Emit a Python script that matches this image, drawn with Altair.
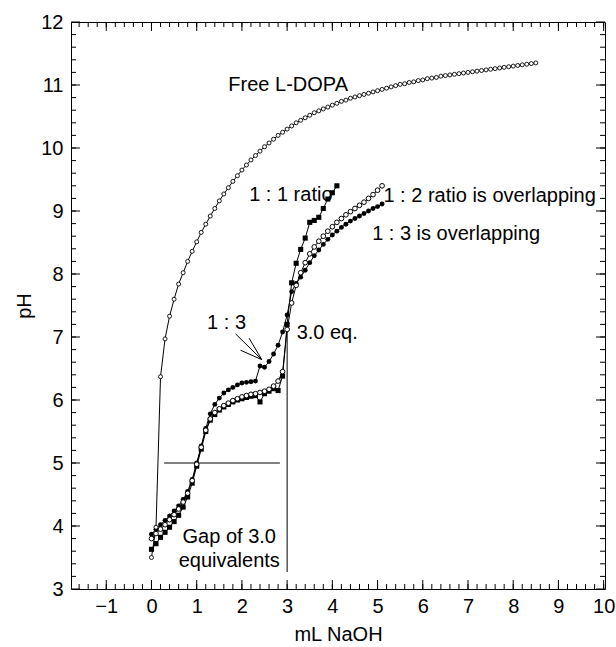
import altair as alt
import pandas as pd

# ---------------- data ----------------
# readings every 0.1 mL of NaOH starting at 0 mL
ldopa_ph = [3.50, 3.98, 6.37, 6.97, 7.33, 7.60, 7.84, 8.02, 8.20, 8.36,
            8.51, 8.66, 8.79, 8.92, 9.04, 9.16, 9.27, 9.37, 9.47, 9.56,
            9.65, 9.73, 9.81, 9.88, 9.95, 10.02, 10.08, 10.14, 10.20, 10.25,
            10.30, 10.35, 10.40, 10.44, 10.48, 10.52, 10.56, 10.59, 10.62, 10.65,
            10.68, 10.71, 10.74, 10.76, 10.79, 10.81, 10.83, 10.85, 10.87, 10.89,
            10.91, 10.93, 10.95, 10.97, 10.99, 11.01, 11.02, 11.04, 11.05, 11.07,
            11.08, 11.10, 11.11, 11.12, 11.14, 11.15, 11.16, 11.17, 11.18, 11.19,
            11.20, 11.21, 11.22, 11.23, 11.24, 11.25, 11.26, 11.27, 11.28, 11.29,
            11.30, 11.31, 11.32, 11.33, 11.34, 11.35]

ratio11_ph = [3.63, 3.72, 3.82, 3.90, 3.98, 4.07, 4.17, 4.30, 4.46, 4.68,
              4.95, 5.22, 5.50, 5.68, 5.77, 5.84, 5.89, 5.93, 5.97, 6.00,
              6.02, 6.04, 6.06, 6.07, 5.97, 6.10, 6.14, 6.18, 6.15, 6.38,
              7.20, 7.86, 8.17, 8.39, 8.57, 8.82, 8.85, 8.90, 9.04, 9.19,
              9.29, 9.40]

ratio12_ph = [3.80, 3.88, 3.95, 4.02, 4.10, 4.18, 4.27, 4.38, 4.52, 4.72,
              4.98, 5.25, 5.52, 5.70, 5.80, 5.86, 5.91, 5.95, 5.99, 6.02,
              6.05, 6.07, 6.09, 6.10, 6.12, 6.14, 6.17, 6.22, 6.30, 6.45,
              7.12, 7.54, 7.82, 8.02, 8.18, 8.32, 8.43, 8.52, 8.60, 8.68,
              8.75, 8.82, 8.88, 8.94, 8.99, 9.04, 9.09, 9.14, 9.20, 9.26,
              9.33, 9.40]

ratio13_ph = [3.87, 3.95, 4.02, 4.09, 4.16, 4.24, 4.32, 4.42, 4.55, 4.74,
              5.00, 5.27, 5.55, 5.78, 5.93, 6.03, 6.11, 6.16, 6.20, 6.24,
              6.27, 6.28, 6.29, 6.30, 6.54, 6.52, 6.61, 6.73, 6.87, 7.08,
              7.35, 7.72, 7.85, 7.95, 8.06, 8.18, 8.29, 8.38, 8.47, 8.55,
              8.62, 8.68, 8.74, 8.79, 8.84, 8.88, 8.92, 8.96, 9.00, 9.04,
              9.07, 9.11]

# annotation texts
left_texts = ["Free L-DOPA", "1 : 1 ratio", "1 : 2 ratio is overlapping",
              "1 : 3 is overlapping", "1 : 3", "3.0 eq."]
left_text_x = [1.70, 2.16, 5.13, 4.88, 1.23, 3.21]
left_text_y = [11.00, 9.25, 9.24, 8.63, 7.22, 7.06]

center_texts = ["Gap of 3.0", "equivalents"]
center_text_x = [1.72, 1.72]
center_text_y = [3.83, 3.45]

# annotation lines (start -> end)
seg_x = [0.28, 3.00, 1.86, 1.97, 2.16]
seg_y = [5.00, 3.27, 7.05, 6.79, 6.98]
seg_x2 = [2.84, 3.00, 2.44, 2.44, 2.44]
seg_y2 = [5.00, 7.20, 6.64, 6.64, 6.64]

# axis ticks
x_major = list(range(-1, 11))
y_major = list(range(3, 13))
x_minor = [round(-1.6 + 0.2 * i, 1) for i in range(59)]
y_minor = [round(3.2 + 0.2 * i, 1) for i in range(44)]

# ---------------- frames ----------------
def ml_grid(n):
    return [round(i * 0.1, 1) for i in range(n)]

free = pd.DataFrame({"ml": ml_grid(len(ldopa_ph)), "ph": ldopa_ph, "series": "free"})
r11 = pd.DataFrame({"ml": ml_grid(len(ratio11_ph)), "ph": ratio11_ph, "series": "r11"})
r12 = pd.DataFrame({"ml": ml_grid(len(ratio12_ph)), "ph": ratio12_ph, "series": "r12"})
r13 = pd.DataFrame({"ml": ml_grid(len(ratio13_ph)), "ph": ratio13_ph, "series": "r13"})
allser = pd.concat([free, r11, r12, r13], ignore_index=True)

tl = pd.DataFrame({"ml": left_text_x, "ph": left_text_y, "t": left_texts})
tc = pd.DataFrame({"ml": center_text_x, "ph": center_text_y, "t": center_texts})
segs = pd.DataFrame({"ml": seg_x, "ph": seg_y, "ml2": seg_x2, "ph2": seg_y2})

W, H = 534, 567
MAJ, MIN = 9, 5
xs = alt.Scale(domain=[-1.78, 10.03], nice=False, zero=False)
ys = alt.Scale(domain=[3, 12], nice=False, zero=False)
FONT = "Liberation Sans"
FS = 20


def X(axis=None, field="ml:Q"):
    return alt.X(field, scale=xs, axis=axis)


def Y(axis=None, field="ph:Q"):
    return alt.Y(field, scale=ys, axis=axis)


# axes with labels only (frame comes from the view stroke)
label_axes = alt.Chart(free).mark_point(opacity=0).encode(
    x=X(alt.Axis(orient="bottom", values=x_major, ticks=False, domain=False, grid=False,
                 labelFontSize=FS, labelPadding=7, labelColor="black", format="d",
                 title="mL NaOH", titleFontSize=FS, titleFontWeight="normal",
                 titlePadding=8, titleColor="black")),
    y=Y(alt.Axis(orient="left", values=y_major, ticks=False, domain=False, grid=False,
                 labelFontSize=FS, labelPadding=8, labelColor="black", format="d",
                 title="pH", titleFontSize=FS, titleFontWeight="normal",
                 titlePadding=6, titleColor="black")),
)

# inward ticks on all four sides
def xticks(vals, length):
    d = pd.DataFrame({"v": vals})
    bottom = alt.Chart(d).mark_rule(color="black", strokeWidth=1).encode(
        x=X(None, "v:Q"), y=alt.value(H), y2=alt.value(H - length))
    top = alt.Chart(d).mark_rule(color="black", strokeWidth=1).encode(
        x=X(None, "v:Q"), y=alt.value(0), y2=alt.value(length))
    return [bottom, top]


def yticks(vals, length):
    d = pd.DataFrame({"v": vals})
    left = alt.Chart(d).mark_rule(color="black", strokeWidth=1).encode(
        y=Y(None, "v:Q"), x=alt.value(0), x2=alt.value(length))
    right = alt.Chart(d).mark_rule(color="black", strokeWidth=1).encode(
        y=Y(None, "v:Q"), x=alt.value(W), x2=alt.value(W - length))
    return [left, right]


tick_layers = (xticks(x_minor, MIN) + xticks(x_major, MAJ)
               + yticks(y_minor, MIN) + yticks(y_major, MAJ))

lines = alt.Chart(allser).mark_line(color="black", strokeWidth=1).encode(
    x=X(), y=Y(), detail="series:N", order="ml:Q")

sq11 = alt.Chart(r11).mark_square(size=26, color="black", opacity=1).encode(x=X(), y=Y())
fc13 = alt.Chart(r13).mark_circle(size=24, color="black", opacity=1).encode(x=X(), y=Y())
oc12 = alt.Chart(r12).mark_point(shape="circle", size=22, filled=True, fill="white",
                                  stroke="black", strokeWidth=1, opacity=1).encode(x=X(), y=Y())
ocfree = alt.Chart(free).mark_point(shape="circle", size=16, filled=True, fill="white",
                                     stroke="black", strokeWidth=0.9, opacity=1).encode(x=X(), y=Y())

rules = alt.Chart(segs).mark_rule(color="black", strokeWidth=1).encode(
    x=X(), y=Y(), x2="ml2:Q", y2="ph2:Q")

txt_l = alt.Chart(tl).mark_text(align="left", baseline="middle", font=FONT,
                                fontSize=FS, color="black").encode(x=X(), y=Y(), text="t:N")
txt_c = alt.Chart(tc).mark_text(align="center", baseline="middle", font=FONT,
                                fontSize=FS, color="black").encode(x=X(), y=Y(), text="t:N")

chart = alt.layer(
    label_axes, *tick_layers,
    rules, lines, sq11, fc13, oc12, ocfree, txt_l, txt_c,
).resolve_axis(x="independent", y="independent").properties(
    width=W, height=H,
    autosize=alt.AutoSizeParams(type="none"),
    padding={"left": 71, "top": 22, "right": 11, "bottom": 58},
    background="white",
).configure_view(stroke="black", strokeWidth=1).configure_axis(
    labelFont=FONT, titleFont=FONT)

chart.save("out.html", embed_options={"renderer": "svg", "actions": False})
